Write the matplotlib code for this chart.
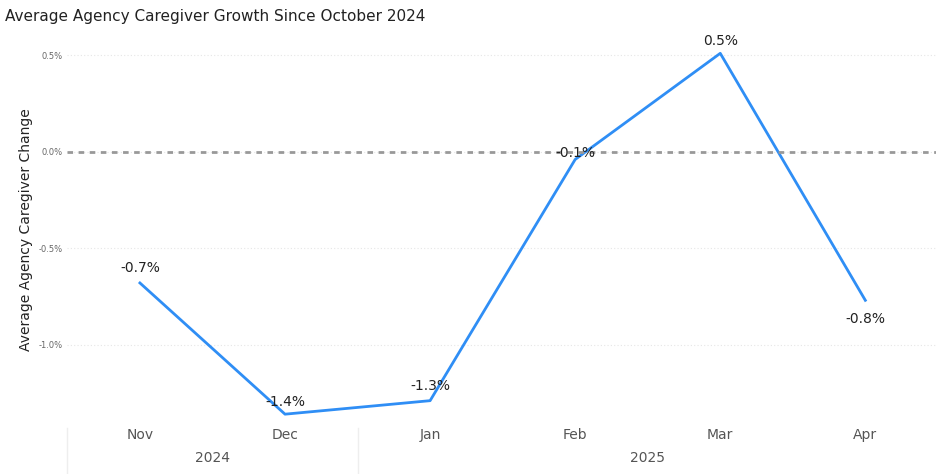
import matplotlib
matplotlib.use("Agg")
import matplotlib.pyplot as plt
from matplotlib.ticker import FuncFormatter

months = ["Nov", "Dec", "Jan", "Feb", "Mar", "Apr"]
years = ["2024", "2025"]
year_spans = [(0, 1), (2, 5)]
values = [-0.68, -1.36, -1.29, -0.04, 0.51, -0.77]
labels = ["-0.7%", "-1.4%", "-1.3%", "-0.1%", "0.5%", "-0.8%"]

fig = plt.figure(figsize=(9.36, 4.74), dpi=100)
ax = fig.add_axes([0.072, 0.114, 0.93, 0.802])
x = list(range(len(months)))
ax.plot(x, values, color="#2F8EF5", lw=2)
ax.axhline(0, color="#999999", ls=(0, (2, 2)), lw=2)
offsets = [(0, 8), (0, 6), (0, 8), (0, 2), (0, 6), (0, -16)]
for xi, v, l, o in zip(x, values, labels, offsets):
    ax.annotate(l, (xi, v), xytext=o, textcoords="offset points", ha="center",
                fontsize=10, color="#222222")
ax.set_xlim(-0.5, 5.5)
ax.set_ylim(-1.39, 0.58)
ax.set_yticks([0.5, 0.0, -0.5, -1.0])
ax.yaxis.set_major_formatter(FuncFormatter(lambda v, p: f"{v:.1f}%"))
ax.tick_params(axis="y", labelsize=6, colors="#666666", length=0)
ax.grid(axis="y", color="#e6e6e6", ls=(0, (1, 2)), lw=0.8)
ax.set_xticks(x)
ax.set_xticklabels(months)
ax.tick_params(axis="x", labelsize=10, colors="#555555", length=0, pad=6)
for s in ax.spines.values():
    s.set_visible(False)
ax.set_ylabel("Average Agency Caregiver Change", fontsize=10, color="#222222")
for (a, b), yr in zip(year_spans, years):
    ax.text((a + b) / 2, -0.11, yr, transform=ax.get_xaxis_transform(), ha="center",
            fontsize=10, color="#555555")
for xb in [-0.5, 1.5, 5.5]:
    ax.plot([xb, xb], [-0.02, -0.14], transform=ax.get_xaxis_transform(),
            color="#eeeeee", lw=1, clip_on=False)
fig.text(0.005, 0.955, "Average Agency Caregiver Growth Since October 2024", fontsize=11,
         color="#222222")
fig.savefig("out.png")
